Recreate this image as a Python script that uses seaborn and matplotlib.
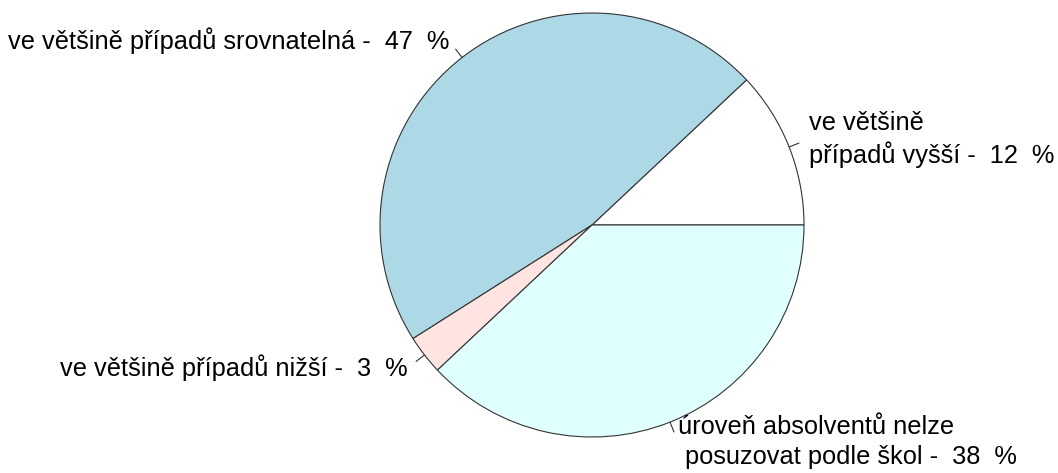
import numpy as np
import matplotlib
matplotlib.use("Agg")
import matplotlib.pyplot as plt
import seaborn as sns

# Share of answers per category (percent)
categories = [
    "ve většině\npřípadů vyšší",
    "ve většině případů srovnatelná",
    "ve většině případů nižší",
    "úroveň absolventů nelze\n posuzovat podle škol",
]
shares = [12, 47, 3, 38]
slice_colors = ["#FFFFFF", "#ADD8E6", "#FFE4E1", "#E0FFFF"]

labels = [f"{c} -  {v}  %" for c, v in zip(categories, shares)]

sns.set_theme(style="white")
plt.rcParams["font.family"] = ["Liberation Sans", "DejaVu Sans"]

fig = plt.figure(figsize=(10.58, 4.73), dpi=100)
ax = fig.add_axes([0, 0, 1, 1])

wedges, texts = ax.pie(
    shares,
    labels=labels,
    colors=slice_colors,
    startangle=0,
    counterclock=True,
    labeldistance=1.1,
    radius=1.0,
    wedgeprops=dict(edgecolor="#333333", linewidth=0.8),
    textprops=dict(fontsize=18.3, color="black", linespacing=1.3),
)

# short tick from the rim towards each label
for w in wedges:
    mid = np.deg2rad((w.theta1 + w.theta2) / 2)
    ax.plot([np.cos(mid), 1.05 * np.cos(mid)],
            [np.sin(mid), 1.05 * np.sin(mid)],
            color="#333333", linewidth=0.8)

ax.set_aspect("auto")
ax.set_xlim(-592 / 212, (1058 - 592) / 212)
ax.set_ylim(-(473 - 225) / 212, 225 / 212)
ax.axis("off")

fig.savefig("out.png", dpi=100, facecolor="white")
